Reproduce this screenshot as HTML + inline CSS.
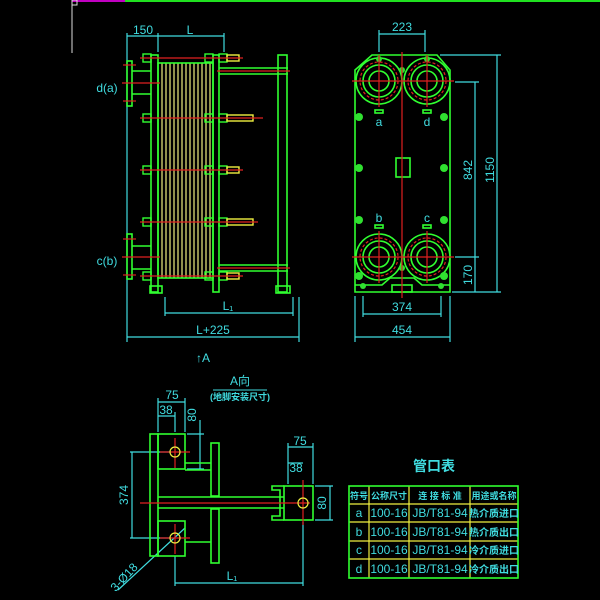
<!DOCTYPE html>
<html><head><meta charset="utf-8"><style>
html,body{margin:0;padding:0;background:#000;}
svg{display:block}
text{font-family:"Liberation Sans","Noto Sans CJK SC",sans-serif;fill:#40dce0}
</style></head><body>
<svg width="600" height="600" viewBox="0 0 600 600" xmlns="http://www.w3.org/2000/svg">
<rect width="600" height="600" fill="#000"/>
<line x1="72" y1="1" x2="125" y2="1" stroke="#c000c0" stroke-width="2"/>
<line x1="125" y1="1" x2="600" y2="1" stroke="#20e020" stroke-width="2"/>
<line x1="72" y1="0" x2="72" y2="53" stroke="#ddd" stroke-width="1"/>
<rect x="72" y="0" width="5" height="5" fill="none" stroke="#ddd"/>

<!-- ===== Side view ===== -->
<g stroke="#40dce0" stroke-width="1.2" fill="none">
<line x1="127" y1="33" x2="127" y2="342"/><line x1="158" y1="33" x2="158" y2="52"/><line x1="224" y1="33" x2="224" y2="52"/>
<line x1="127" y1="36" x2="224" y2="36"/>
<line x1="165" y1="297" x2="165" y2="316"/><line x1="293" y1="297" x2="293" y2="316"/><line x1="299" y1="297" x2="299" y2="342"/>
<line x1="165" y1="313" x2="293" y2="313"/>
<line x1="127" y1="337" x2="299" y2="337"/>
</g>
<text x="143" y="34" font-size="12" text-anchor="middle">150</text>
<text x="190" y="34" font-size="12" text-anchor="middle">L</text>
<text x="228" y="310" font-size="12" text-anchor="middle">L₁</text>
<text x="213" y="334" font-size="12" text-anchor="middle">L+225</text>
<text x="107" y="92" font-size="12" text-anchor="middle">d(a)</text>
<text x="107" y="265" font-size="12" text-anchor="middle">c(b)</text>
<g stroke="#f0f080" stroke-width="1.2">
<line x1="162" y1="63" x2="162" y2="278"/><line x1="166" y1="63" x2="166" y2="278"/><line x1="170" y1="63" x2="170" y2="278"/>
<line x1="174" y1="63" x2="174" y2="278"/><line x1="178" y1="63" x2="178" y2="278"/><line x1="182" y1="63" x2="182" y2="278"/>
<line x1="186" y1="63" x2="186" y2="278"/><line x1="190" y1="63" x2="190" y2="278"/><line x1="194" y1="63" x2="194" y2="278"/>
<line x1="198" y1="63" x2="198" y2="278"/><line x1="202" y1="63" x2="202" y2="278"/><line x1="206" y1="63" x2="206" y2="278"/><line x1="210" y1="63" x2="210" y2="278"/>
</g>
<g stroke="#30ff30" stroke-width="1.6" fill="none">
<rect x="151" y="55" width="7" height="237"/>
<rect x="158" y="63" width="55" height="215"/>
<rect x="213" y="55" width="6" height="237"/>
<rect x="278" y="55" width="9" height="237"/>
<line x1="219" y1="68" x2="288" y2="68"/><line x1="219" y1="74" x2="288" y2="74"/>
<line x1="219" y1="265" x2="288" y2="265"/><line x1="219" y1="271" x2="288" y2="271"/>
<rect x="127" y="61" width="5" height="45"/><rect x="127" y="234" width="5" height="45"/>
<line x1="132" y1="71" x2="151" y2="71"/><line x1="132" y1="94" x2="151" y2="94"/>
<line x1="132" y1="246" x2="151" y2="246"/><line x1="132" y1="269" x2="151" y2="269"/>
<rect x="150" y="286" width="12" height="7"/><rect x="276" y="286" width="14" height="7"/>
</g>
<g stroke="#30ff30" stroke-width="1.4" fill="none">
<rect x="143" y="54" width="8" height="8"/><rect x="219" y="54" width="8" height="8"/><rect x="205" y="54" width="8" height="8"/><rect x="227" y="55" width="12" height="6" stroke="#f0f040"/>
<rect x="143" y="114" width="8" height="8"/><rect x="219" y="114" width="8" height="8"/><rect x="205" y="114" width="8" height="8"/><rect x="227" y="115" width="26" height="6" stroke="#f0f040"/>
<rect x="143" y="166" width="8" height="8"/><rect x="219" y="166" width="8" height="8"/><rect x="205" y="166" width="8" height="8"/><rect x="227" y="167" width="12" height="6" stroke="#f0f040"/>
<rect x="143" y="218" width="8" height="8"/><rect x="219" y="218" width="8" height="8"/><rect x="205" y="218" width="8" height="8"/><rect x="227" y="219" width="26" height="6" stroke="#f0f040"/>
<rect x="143" y="272" width="8" height="8"/><rect x="219" y="272" width="8" height="8"/><rect x="205" y="272" width="8" height="8"/><rect x="227" y="273" width="12" height="6" stroke="#f0f040"/>
</g>
<g stroke="#e02020" stroke-width="1.2">
<line x1="140" y1="58" x2="243" y2="58"/><line x1="140" y1="118" x2="263" y2="118"/><line x1="140" y1="170" x2="243" y2="170"/>
<line x1="140" y1="222" x2="258" y2="222"/><line x1="140" y1="276" x2="243" y2="276"/>
<line x1="217" y1="71" x2="290" y2="71"/><line x1="217" y1="268" x2="290" y2="268"/>
<line x1="122" y1="83" x2="160" y2="83"/><line x1="122" y1="257" x2="160" y2="257"/>
<line x1="123" y1="65" x2="136" y2="65"/><line x1="123" y1="101" x2="136" y2="101"/>
<line x1="123" y1="239" x2="136" y2="239"/><line x1="123" y1="275" x2="136" y2="275"/>
</g>

<!-- ===== Front view ===== -->
<g stroke="#40dce0" stroke-width="1.2" fill="none">
<line x1="379" y1="30" x2="379" y2="52"/><line x1="425" y1="30" x2="425" y2="52"/><line x1="379" y1="34" x2="425" y2="34"/>
<line x1="440" y1="55" x2="501" y2="55"/><line x1="455" y1="82" x2="479" y2="82"/><line x1="455" y1="257" x2="479" y2="257"/><line x1="452" y1="292" x2="501" y2="292"/>
<line x1="475" y1="82" x2="475" y2="292"/><line x1="497" y1="55" x2="497" y2="292"/>
<line x1="355" y1="296" x2="355" y2="342"/><line x1="450" y1="296" x2="450" y2="342"/>
<line x1="363" y1="296" x2="363" y2="317"/><line x1="441" y1="296" x2="441" y2="317"/>
<line x1="363" y1="314" x2="441" y2="314"/><line x1="355" y1="337" x2="450" y2="337"/>
</g>
<text x="402" y="31" font-size="12" text-anchor="middle">223</text>
<text x="402" y="311" font-size="12" text-anchor="middle">374</text>
<text x="402" y="334" font-size="12" text-anchor="middle">454</text>
<text transform="translate(472,170) rotate(-90)" font-size="12" text-anchor="middle">842</text>
<text transform="translate(494,170) rotate(-90)" font-size="12" text-anchor="middle">1150</text>
<text transform="translate(472,275) rotate(-90)" font-size="12" text-anchor="middle">170</text>
<text x="379" y="126" font-size="12" text-anchor="middle">a</text>
<text x="427" y="126" font-size="12" text-anchor="middle">d</text>
<text x="379" y="222" font-size="12" text-anchor="middle">b</text>
<text x="427" y="222" font-size="12" text-anchor="middle">c</text>
<g stroke="#30ff30" stroke-width="1.6" fill="none">
<path d="M372 55 L437 55 L450 70 L450 292 L355 292 L355 70 Z"/>
<path d="M355 285 L382 285 L390 278 L414 278 L422 285 L450 285"/>
<rect x="392" y="285" width="20" height="7"/>
<circle cx="379" cy="81" r="23"/><circle cx="427" cy="81" r="23"/><circle cx="379" cy="257" r="23"/><circle cx="427" cy="257" r="23"/>
<circle cx="379" cy="81" r="16"/><circle cx="427" cy="81" r="16"/><circle cx="379" cy="257" r="16"/><circle cx="427" cy="257" r="16"/>
<circle cx="379" cy="81" r="10"/><circle cx="427" cy="81" r="10"/><circle cx="379" cy="257" r="10"/><circle cx="427" cy="257" r="10"/>
<rect x="375" y="110" width="8" height="3"/><rect x="423" y="110" width="8" height="3"/><rect x="375" y="225" width="8" height="3"/><rect x="423" y="225" width="8" height="3"/>
<rect x="396" y="158" width="14" height="19"/>
</g>
<g fill="#30e030">
<circle cx="359" cy="117" r="4"/><circle cx="444" cy="117" r="4"/><circle cx="359" cy="168" r="4"/><circle cx="444" cy="168" r="4"/>
<circle cx="359" cy="220" r="4"/><circle cx="444" cy="220" r="4"/><circle cx="359" cy="276" r="4"/><circle cx="444" cy="276" r="4"/>
<circle cx="363" cy="286" r="3"/><circle cx="441" cy="286" r="3"/>
<circle cx="379" cy="59" r="3"/><circle cx="427" cy="59" r="3"/><circle cx="402" cy="70" r="3"/><circle cx="402" cy="268" r="3"/>
</g>
<g stroke="#e02020" stroke-width="1.2" fill="none">
<line x1="402" y1="52" x2="402" y2="298"/>
<line x1="352" y1="81" x2="454" y2="81"/><line x1="352" y1="257" x2="454" y2="257"/>
<line x1="379" y1="55" x2="379" y2="107"/><line x1="427" y1="55" x2="427" y2="107"/>
<line x1="379" y1="231" x2="379" y2="283"/><line x1="427" y1="231" x2="427" y2="283"/>
<circle cx="379" cy="81" r="19" stroke-dasharray="3 2"/><circle cx="427" cy="81" r="19" stroke-dasharray="3 2"/>
<circle cx="379" cy="257" r="19" stroke-dasharray="3 2"/><circle cx="427" cy="257" r="19" stroke-dasharray="3 2"/>
</g>

<!-- ===== A view ===== -->
<text x="196" y="362" font-size="12">↑A</text>
<text x="240" y="385" font-size="12" text-anchor="middle">A向</text>
<line x1="213" y1="390" x2="267" y2="390" stroke="#40dce0"/>
<text x="240" y="400" font-size="9" font-weight="bold" text-anchor="middle">(地脚安装尺寸)</text>
<g stroke="#40dce0" stroke-width="1.2" fill="none">
<line x1="158" y1="398" x2="158" y2="432"/><line x1="185" y1="398" x2="185" y2="432"/><line x1="175" y1="412" x2="175" y2="432"/>
<line x1="158" y1="402" x2="185" y2="402"/><line x1="158" y1="416" x2="175" y2="416"/>
<line x1="187" y1="434" x2="204" y2="434"/><line x1="187" y1="469" x2="204" y2="469"/><line x1="200" y1="420" x2="200" y2="469"/>
<line x1="130" y1="452" x2="170" y2="452"/><line x1="130" y1="538" x2="170" y2="538"/><line x1="132" y1="452" x2="132" y2="538"/>
<line x1="288" y1="443" x2="288" y2="484"/><line x1="313" y1="443" x2="313" y2="484"/><line x1="288" y1="447" x2="313" y2="447"/><line x1="288" y1="463" x2="303" y2="463"/>
<line x1="315" y1="486" x2="333" y2="486"/><line x1="315" y1="520" x2="333" y2="520"/><line x1="330" y1="486" x2="330" y2="520"/>
<line x1="175" y1="556" x2="175" y2="586"/><line x1="303" y1="522" x2="303" y2="586"/><line x1="175" y1="583" x2="303" y2="583"/>
<line x1="185" y1="528" x2="118" y2="590"/>
</g>
<text x="172" y="399" font-size="12" text-anchor="middle">75</text>
<text x="166" y="414" font-size="12" text-anchor="middle">38</text>
<text transform="translate(196,415) rotate(-90)" font-size="12" text-anchor="middle">80</text>
<text transform="translate(128,495) rotate(-90)" font-size="12" text-anchor="middle">374</text>
<text x="300" y="445" font-size="12" text-anchor="middle">75</text>
<text x="296" y="472" font-size="12" text-anchor="middle">38</text>
<text transform="translate(326,503) rotate(-90)" font-size="12" text-anchor="middle">80</text>
<text x="232" y="580" font-size="12" text-anchor="middle">L₁</text>
<text transform="translate(127,580) rotate(-47)" font-size="12" text-anchor="middle">3-Ø18</text>
<g stroke="#30ff30" stroke-width="1.6" fill="none">
<rect x="150" y="434" width="8" height="122"/>
<rect x="158" y="434" width="27" height="35"/><rect x="158" y="521" width="27" height="35"/>
<line x1="158" y1="497" x2="284" y2="497"/><line x1="158" y1="508" x2="284" y2="508"/>
<rect x="211" y="443" width="8" height="53"/><rect x="211" y="509" width="8" height="54"/>
<line x1="185" y1="463" x2="211" y2="463"/><line x1="185" y1="470" x2="211" y2="470"/>
<line x1="185" y1="542" x2="211" y2="542"/>
<path d="M284 486 L272 486 L272 490 L280 490 L280 516 L272 516 L272 520 L284 520"/>
<rect x="284" y="486" width="29" height="34"/>
</g>
<g stroke="#e02020" stroke-width="1.2" fill="none">
<line x1="140" y1="503" x2="310" y2="503"/>
<line x1="160" y1="452" x2="190" y2="452"/><line x1="175" y1="438" x2="175" y2="468"/>
<line x1="160" y1="538" x2="190" y2="538"/><line x1="175" y1="524" x2="175" y2="554"/>
<line x1="303" y1="480" x2="303" y2="525"/>
</g>
<g stroke="#f0f040" stroke-width="1.2" fill="none">
<circle cx="175" cy="452" r="5"/><circle cx="175" cy="538" r="5"/><circle cx="303" cy="503" r="5"/>
</g>

<!-- ===== Table ===== -->
<text x="434" y="471" font-size="14" font-weight="bold" text-anchor="middle">管口表</text>
<g stroke="#f0f040" stroke-width="1.2">
<line x1="349" y1="504" x2="518" y2="504"/><line x1="349" y1="522" x2="518" y2="522"/>
<line x1="349" y1="541" x2="518" y2="541"/><line x1="349" y1="559" x2="518" y2="559"/>
<line x1="369" y1="486" x2="369" y2="578"/><line x1="409" y1="486" x2="409" y2="578"/><line x1="470" y1="486" x2="470" y2="578"/>
</g>
<rect x="349" y="486" width="169" height="92" fill="none" stroke="#30ff30" stroke-width="1.6"/>
<g font-size="9" font-weight="bold" text-anchor="middle">
<text x="359" y="499">符号</text><text x="389" y="499">公称尺寸</text><text x="440" y="499">连 接 标 准</text><text x="494" y="499">用途或名称</text>
</g>
<g font-size="12" text-anchor="middle">
<text x="359" y="517">a</text><text x="389" y="517">100-16</text><text x="440" y="517">JB/T81-94</text><text x="494" y="517" font-size="10" font-weight="bold">热介质进口</text>
<text x="359" y="536">b</text><text x="389" y="536">100-16</text><text x="440" y="536">JB/T81-94</text><text x="494" y="536" font-size="10" font-weight="bold">热介质出口</text>
<text x="359" y="554">c</text><text x="389" y="554">100-16</text><text x="440" y="554">JB/T81-94</text><text x="494" y="554" font-size="10" font-weight="bold">冷介质进口</text>
<text x="359" y="573">d</text><text x="389" y="573">100-16</text><text x="440" y="573">JB/T81-94</text><text x="494" y="573" font-size="10" font-weight="bold">冷介质出口</text>
</g>
</svg>
</body></html>
